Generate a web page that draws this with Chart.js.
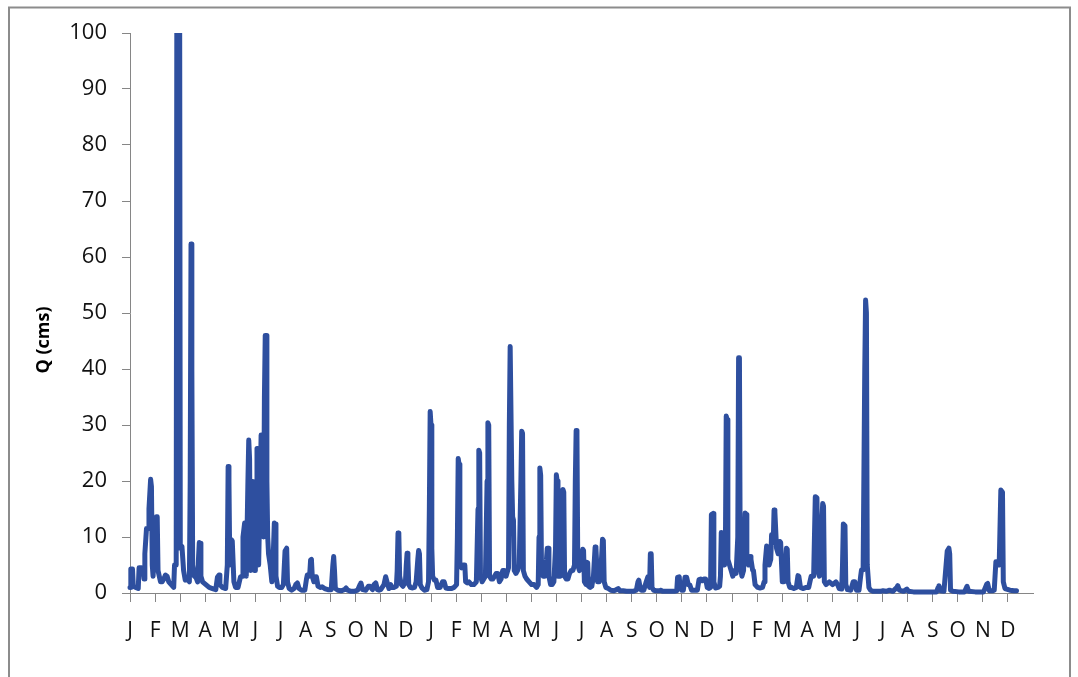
<!DOCTYPE html>
<html>
<head>
<meta charset="utf-8">
<script src="https://cdn.jsdelivr.net/npm/chart.js@4/dist/chart.umd.min.js"></script>
<style>
  html, body { margin: 0; padding: 0; background: #fff; }
</style>
</head>
<body>
<canvas id="flow-chart" width="1078" height="677"></canvas>
<script>
// month initials shown under the axis, repeated for each year
const monthLabels = ["J", "F", "M", "A", "M", "J", "J", "A", "S", "O", "N", "D"];
const yearsShown = 3;
const yTickStep = 10;
const yMax = 100;

// daily discharge, [day of record, Q in cms]
const flowYear1 = [
    [0,1.0],[1,4.3],[3,4.3],[4,1.2],[7,1.0],[10,0.8],[11,4.5],[14,4.5],[16,4.2],[17,2.5],[18,7],[20,11.5],[22,11.5],[23,15],[25,20.3],[26,19],[27,5],[28,3],[30,9],[32,13.6],[33,13.6],[34,4],[37,2],[39,2],[41,2.5],[43,3.2],[45,3],[47,2],[50,1.5],[53,1.0],[54,5],[56,5],[57,130],[60,130],[61,8],[63,8.3],[65,4],[67,2.3],[70,2.5],[72,2],[73,20],[74,62.3],[75,40],[76,5],[78,3],[80,2.8],[82,2],[83,6],[84,9],[85,8.9],[86,3],[88,2],[92,1.5],[96,1],[100,0.8],[104,0.6],[106,2.8],[108,3.2],[109,1.5],[112,1],[116,0.8],[118,5],[119,22.6],[120,20],[121,5],[123,9.5],[124,9.3],[126,2],[128,1],[131,1],[134,2.9],[136,3],[137,10],[139,12.5],[141,3],[143,20],[144,27.3],[145,24],[146,4],[148,10],[149,19.9],[150,15],[151,4],[152,4],[153,15],[154,25.8],[155,25.8],[156,5],[158,20],[159,28.2],[160,28.2],[161,22],[162,10],[163,35],[164,46],[165,46],[166,20],[167,10],[168,7],[170,5],[172,2],[174,8],[175,12.5],[176,12.3],[177,3],[179,1.2],[181,1],[184,1],[186,1.5],[188,7.5],[190,8],[191,2],[193,0.8],[196,0.5],[199,0.8],[201,1.5],[203,1.8],[205,0.8],[208,0.5],[212,0.5],[214,2.5],[215,3.2],[217,3],[218,3.5],[219,5.9],[220,6],[221,3],[223,2],[225,2.9],[226,2.9],[228,1.2],[231,1],[233,1.1],[236,0.8],[240,0.6],[244,0.6],[246,5],[247,6.5],[248,4],[249,0.8],[252,0.5],[256,0.4],[260,0.6],[262,0.9],[264,0.5],[268,0.3],[272,0.3],[276,0.5],[279,1.5],[280,1.8],[282,0.6],[286,0.5],[289,1.2],[291,1.2],[294,0.6],[296,1.5],[298,1.8],[300,0.6],[302,0.5],[304,0.6],[308,1.5],[310,2.9],[312,1.8],[314,0.8],[316,1.5],[318,1],[320,1],[323,1.2],[324,4],[325,10.7],[326,10.5],[327,3],[329,1.5],[331,1.2],[334,2],[335,5],[336,7.1],[337,6],[338,1.5],[340,1],[342,0.9],[345,1],[347,2],[349,6],[350,7.6],[351,7],[352,1.5],[354,0.9],[357,0.5],[360,0.6],[362,2],[363,15],[364,32.4]
];

const flowYear2 = [
    [365,30],[366,8],[367,3],[369,2.3],[371,2.3],[373,1],[376,1],[379,2],[381,2],[383,0.9],[386,0.8],[390,0.8],[393,1],[396,1.5],[397,10],[398,24],[399,23],[400,5],[402,4.5],[404,5],[406,5],[407,2],[409,1.8],[411,2],[414,1.5],[417,1.5],[420,2],[422,15],[423,25.5],[424,25],[425,3],[427,2],[429,2.5],[431,3],[433,20],[434,30.4],[435,30],[436,3],[438,2.5],[440,2.5],[442,3],[444,3.5],[446,3.5],[448,2],[450,2.5],[452,4],[454,4],[456,3],[458,4],[459,4.5],[460,30],[461,44],[462,44],[463,20],[464,13.6],[465,13],[466,4],[468,3.5],[470,4],[472,5],[474,20],[475,28.9],[476,28.5],[477,4],[479,3],[481,2.5],[484,2],[487,1.5],[490,1.5],[493,1],[495,1.5],[496,10],[497,22.3],[498,21],[499,4],[501,3],[503,3],[505,6],[506,8],[507,8],[508,3],[510,1.5],[512,1.5],[514,2],[516,8],[517,21.1],[518,20],[519,3],[521,3],[522,3],[524,10],[525,18.5],[526,18],[527,3],[529,2.5],[531,2.5],[533,3.5],[535,4],[537,4],[539,5],[540,20],[541,29],[542,28],[543,5],[545,4],[547,5],[549,7.8],[550,7.6],[551,2],[553,1.5],[554,5.5],[555,5.4],[556,1.2],[558,1],[560,1.2],[562,3],[564,8.2],[565,8],[567,2],[569,2],[571,4],[573,9.6],[574,9.4],[575,2],[577,1],[580,0.8],[583,0.5],[587,0.4],[590,0.6],[592,0.8],[594,0.4],[598,0.4],[602,0.3],[606,0.3],[610,0.3],[614,0.5],[616,2],[617,2.3],[618,1.5],[620,0.5],[623,0.5],[626,2],[628,2.9],[629,2.8],[630,1],[631,7],[632,7],[633,1],[635,0.5],[638,0.4],[642,0.4],[644,0.5],[646,0.3],[650,0.3],[655,0.3],[660,0.3],[663,0.4],[664,2.8],[666,2.9],[667,1],[669,0.5],[671,0.5],[673,2.8],[675,2.8],[677,1.5],[679,1.4],[681,0.5],[684,0.5],[688,0.5],[690,2.4],[692,2.5],[694,2.2],[696,2.5],[698,2.5],[700,1],[702,0.8],[704,1],[705,14],[707,14.2],[708,2],[710,0.9],[713,1],[715,1.2],[716,3],[717,10.8],[718,10.5],[719,5],[721,5],[722,8],[723,31.6],[724,31],[725,6],[727,5],[729,4]
];

const flowYear3 = [
    [731,3],[733,4],[735,3.5],[737,10],[738,42],[739,42],[740,5],[742,3],[744,4],[745,10],[746,14.3],[747,14],[748,6],[750,5],[752,6.5],[753,6],[755,4.1],[756,4],[758,1.5],[761,1],[764,0.9],[767,1],[769,2],[770,5],[772,8.4],[773,8],[775,5],[777,6],[778,10.4],[780,9],[781,14.8],[782,14.5],[784,8],[786,7],[788,9.2],[789,9],[791,2],[793,2],[795,5],[796,8],[797,7.8],[798,2],[800,1],[802,1],[805,0.8],[808,1],[810,3.1],[811,3],[813,1],[816,0.8],[820,1],[823,1],[826,3],[829,3],[831,17.2],[833,17],[834,4],[836,3],[838,10],[840,16],[841,15.5],[842,2],[844,1.5],[848,2],[852,1.5],[856,2],[858,1.5],[860,0.8],[863,0.7],[864,5],[865,12.3],[867,12],[868,1.5],[870,0.6],[874,0.5],[877,2],[879,2],[881,0.5],[884,0.5],[886,3],[887,4.1],[889,4.1],[891,40],[892,52.3],[893,50],[894,5],[896,1],[898,0.5],[901,0.3],[905,0.3],[910,0.3],[913,0.4],[917,0.3],[921,0.5],[925,0.3],[930,1],[931,1.3],[933,0.5],[938,0.3],[942,0.7],[944,0.3],[950,0.2],[960,0.2],[970,0.2],[978,0.2],[980,1],[981,1.3],[983,0.4],[987,0.3],[991,7.5],[993,8],[994,7],[995,0.5],[998,0.3],[1005,0.2],[1012,0.2],[1015,1.2],[1016,1.2],[1017,0.3],[1025,0.2],[1035,0.2],[1039,1.6],[1040,1.7],[1042,0.4],[1046,0.4],[1048,0.5],[1050,5.6],[1052,5.6],[1054,5],[1056,18.4],[1058,18],[1059,2],[1061,0.8],[1067,0.5],[1072,0.4],[1075,0.4]
];

const daysPerMonth = 365 / 12;
const monthCount = yearsShown * 12;
const monthStarts = [];
for (let i = 0; i < monthCount; i++) monthStarts.push(i * daysPerMonth);

const flowPoints = flowYear1.concat(flowYear2, flowYear3).map(function(p) {
    return { x: p[0], y: p[1] };
});

const axisGrey = '#868686';
const fontFamily = "'Open Sans', 'Liberation Sans', sans-serif";

// outer frame and the rotated y title
const framePlugin = {
    id: 'frame',
    beforeDraw: function(chart) {
        const ctx = chart.ctx;
        ctx.save();
        ctx.fillStyle = '#ffffff';
        ctx.fillRect(0, 0, chart.width, chart.height);
        ctx.strokeStyle = '#8c8c8c';
        ctx.lineWidth = 2;
        ctx.strokeRect(9, 7.5, 1061, 700);
        ctx.restore();
    },
    afterDraw: function(chart) {
        const ctx = chart.ctx;
        ctx.save();
        ctx.translate(44, 340);
        ctx.rotate(-Math.PI / 2);
        ctx.font = "bold 18px " + fontFamily;
        ctx.fillStyle = '#000';
        ctx.textAlign = 'center';
        ctx.textBaseline = 'middle';
        ctx.fillText('Q (cms)', 0, 0);
        ctx.restore();
    }
};

new Chart(document.getElementById("flow-chart"), {
    type: 'line',
    data: {
        datasets: [{
            label: 'Q',
            data: flowPoints,
            borderColor: '#2E4F9F',
            borderWidth: 5,
            borderJoinStyle: 'round',
            borderCapStyle: 'round',
            pointRadius: 0,
            tension: 0,
            fill: false,
            clip: { left: 4, top: 0, right: 4, bottom: 4 }
        }]
    },
    options: {
        responsive: false,
        animation: false,
        layout: { padding: { left: 0, top: 33, right: 45, bottom: 0 } },
        plugins: {
            legend: { display: false },
            tooltip: { enabled: false }
        },
        scales: {
            x: {
                type: 'linear',
                min: 0,
                max: monthCount * daysPerMonth,
                afterBuildTicks: function(scale) {
                    scale.ticks = monthStarts.map(function(v) { return { value: v }; });
                },
                afterFit: function(scale) { scale.height = 84; },
                grid: { drawOnChartArea: false, drawTicks: true, tickLength: 9, color: axisGrey },
                border: { color: axisGrey, width: 1 },
                ticks: {
                    autoSkip: false,
                    maxRotation: 0,
                    padding: 16,
                    color: '#111',
                    font: { family: fontFamily, size: 21 },
                    callback: function(value, index) { return monthLabels[index % 12]; }
                }
            },
            y: {
                min: 0,
                max: yMax,
                afterFit: function(scale) { scale.width = 130; },
                grid: { drawOnChartArea: false, drawTicks: true, tickLength: 8, color: axisGrey },
                border: { color: axisGrey, width: 1 },
                ticks: {
                    stepSize: yTickStep,
                    padding: 15,
                    color: '#111',
                    font: { family: fontFamily, size: 22 }
                }
            }
        }
    },
    plugins: [framePlugin]
});
</script>
</body>
</html>
